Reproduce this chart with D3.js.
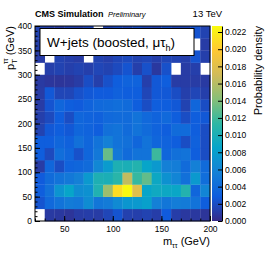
<!DOCTYPE html>
<html lang="en">
<head>
<meta charset="UTF-8">
<title>W+jets boosted mu-tau_h</title>
<style>
  body { margin: 0; background: #fff; }
  svg  { display: block; font-family: "Liberation Sans", Arial, sans-serif; }
  .tick text { font-size: 8.5px; fill: #000; }
  .tick line { stroke: #000; }
</style>
</head>
<body>
<svg id="chart" width="270" height="260"></svg>

<script src="https://d3js.org/d3.v7.min.js"></script>
<script>
/* ---------------- Data ---------------- */
const mEdges  = [20, 30, 40, 50, 60, 70, 80, 90, 100, 110, 120, 130, 140, 150, 160, 170, 180, 190, 200];
const ptEdges = [0, 25, 50, 75, 100, 125, 150, 175, 200, 225, 250, 275, 300, 325, 350, 375, 400];

// probability density x 1e-3, one row per pT bin (bottom first), one value per m bin
const density = [
  [0, 0.9, 0.8, 0.6, 1.0, 1.1, 1.0, 1.6, 2.4, 1.3, 1.2, 1.4, 1.1, 2.8, 1.1, 0.8, 0.8, 0.6],
  [2.4, 3.8, 4.6, 5.2, 5.0, 6.6, 4.8, 5.2, 6.4, 7.4, 7.6, 8.2, 5.6, 4.8, 5.4, 5.2, 4.6, 3.0],
  [3.0, 4.4, 7.2, 8.6, 6.6, 7.0, 10.4, 15.0, 21.0, 22.6, 18.0, 8.6, 9.2, 9.0, 8.8, 10.6, 3.6, 6.0],
  [2.8, 4.0, 4.6, 5.0, 5.6, 7.6, 10.2, 10.0, 11.0, 16.4, 11.6, 13.0, 9.0, 7.0, 6.0, 4.4, 7.6, 4.2],
  [1.0, 3.6, 2.0, 3.4, 3.6, 4.0, 6.2, 7.8, 10.2, 10.0, 10.6, 8.6, 7.6, 5.6, 5.4, 4.0, 5.6, 4.0],
  [3.0, 1.8, 4.2, 3.6, 2.2, 3.6, 5.0, 13.2, 5.0, 4.0, 4.6, 4.6, 11.8, 3.6, 4.4, 4.6, 3.0, 2.0],
  [3.0, 3.0, 3.6, 3.2, 4.4, 3.6, 4.6, 5.6, 4.6, 4.4, 3.6, 4.6, 3.6, 3.4, 3.0, 2.0, 3.2, 2.0],
  [1.4, 2.6, 3.0, 2.6, 3.6, 3.4, 3.0, 4.4, 4.6, 4.0, 4.6, 4.0, 3.4, 3.0, 4.0, 4.0, 3.0, 2.0],
  [1.2, 1.8, 3.0, 2.0, 3.6, 3.4, 3.2, 3.8, 4.0, 4.0, 4.6, 3.8, 3.4, 3.8, 3.0, 2.0, 3.0, 2.6],
  [1.0, 2.4, 3.6, 3.0, 2.8, 3.4, 3.8, 4.0, 4.2, 4.0, 3.0, 2.0, 3.0, 3.0, 2.6, 1.4, 3.6, 2.0],
  [1.0, 2.6, 1.6, 1.6, 2.2, 2.6, 2.8, 2.8, 3.2, 3.0, 3.0, 1.6, 2.6, 2.6, 2.0, 1.2, 1.6, 1.2],
  [0.9, 0.7, 0.6, 0.7, 1.0, 2.0, 1.2, 2.2, 3.0, 3.4, 3.4, 1.2, 2.6, 3.0, 1.0, 1.0, 1.0, 0.9],
  [0, 1.2, 1.4, 1.2, 1.4, 1.2, 1.6, 1.4, 1.8, 2.4, 1.2, 2.2, 0.8, 2.2, 0, 1.0, 1.2, 0],
  [1.0, 0, 1.4, 1.2, 1.0, 0, 1.4, 1.2, 1.6, 1.8, 1.4, 1.6, 1.2, 1.6, 1.4, 1.2, 2.4, 1.2],
  [1.2, 1.0, 1.2, 1.0, 1.4, 1.2, 1.0, 1.2, 1.4, 1.6, 1.2, 1.4, 1.0, 1.2, 1.0, 1.2, 0, 1.0],
  [1.4, 1.2, 1.0, 1.4, 1.2, 1.6, 0, 1.4, 1.8, 1.6, 2.0, 1.6, 1.4, 2.0, 1.6, 1.6, 2.4, 1.4]
];

const xTicks = [50, 100, 150, 200];
const yTicks = [0, 50, 100, 150, 200, 250, 300, 350, 400];
const zTicks = [0, 0.002, 0.004, 0.006, 0.008, 0.01, 0.012, 0.014, 0.016, 0.018, 0.02, 0.022];
const zMax   = 0.0227;

// ROOT kBird palette stops
const birdStops  = [0, 0.125, 0.25, 0.375, 0.5, 0.625, 0.75, 0.875, 1];
const birdColors = ['#352a87', '#0f5cdd', '#1481d6', '#06a4ca', '#2eb7a4', '#87bf77', '#d1bb59', '#fec832', '#f9fb0e'];

/* ---------------- Layout ---------------- */
const L = 35, R = 210, T = 26, B = 221;
const CB = {x0: 212, x1: 222};

const svg = d3.select('#chart');

const x = d3.scaleLinear().domain([20, 200]).range([L, R]);
const y = d3.scaleLinear().domain([0, 400]).range([B, T]);
const z = d3.scaleLinear().domain([0, zMax]).range([B, T]);
const color = d3.scaleLinear()
  .domain(birdStops.map(s => s * zMax))
  .range(birdColors)
  .clamp(true);

/* ---------------- Cells ---------------- */
const cells = [];
density.forEach((row, j) => row.forEach((v, i) => {
  if (v > 0) cells.push({i, j, v: v / 1000});
}));

svg.append('g').selectAll('rect')
  .data(cells)
  .enter().append('rect')
    .attr('x', d => x(mEdges[d.i]))
    .attr('y', d => y(ptEdges[d.j + 1]))
    .attr('width', d => x(mEdges[d.i + 1]) - x(mEdges[d.i]) + 0.3)
    .attr('height', d => y(ptEdges[d.j]) - y(ptEdges[d.j + 1]) + 0.3)
    .attr('fill', d => color(d.v));

/* ---------------- Axes ---------------- */
const minorX = d3.range(20, 201, 10);
const minorY = d3.range(0, 401, 10);

const gx = svg.append('g').attr('transform', `translate(0,${B})`);
gx.call(d3.axisBottom(x).tickValues(minorX).tickSize(-2.5).tickFormat(''));
gx.append('g').call(d3.axisBottom(x).tickValues(xTicks).tickSize(-5).tickPadding(5));
gx.selectAll('.domain').remove();

const gy = svg.append('g').attr('transform', `translate(${L},0)`);
gy.call(d3.axisLeft(y).tickValues(minorY).tickSize(-2.5).tickFormat(''));
gy.append('g').call(d3.axisLeft(y).tickValues(yTicks).tickSize(-5).tickPadding(3));
gy.selectAll('.domain').remove();

// frame
svg.append('rect')
  .attr('x', L).attr('y', T)
  .attr('width', R - L).attr('height', B - T)
  .attr('fill', 'none').attr('stroke', '#000').attr('stroke-width', 1);

/* ---------------- Colour bar ---------------- */
const grad = svg.append('defs').append('linearGradient')
  .attr('id', 'bird').attr('x1', 0).attr('y1', 1).attr('x2', 0).attr('y2', 0);
grad.selectAll('stop')
  .data(birdStops)
  .enter().append('stop')
    .attr('offset', d => d)
    .attr('stop-color', (d, k) => birdColors[k]);

svg.append('rect')
  .attr('x', CB.x0).attr('y', T)
  .attr('width', CB.x1 - CB.x0).attr('height', B - T)
  .attr('fill', 'url(#bird)');

const gz = svg.append('g').attr('transform', `translate(${CB.x1},0)`);
gz.call(d3.axisRight(z).tickValues(zTicks).tickSize(-4).tickPadding(3).tickSizeOuter(0));
gz.select('.domain').attr('stroke', '#000');

svg.append('text')
  .attr('transform', `translate(262,${T}) rotate(-90)`)
  .attr('text-anchor', 'end')
  .attr('font-size', 11)
  .text('Probability density');

/* ---------------- Titles ---------------- */
svg.append('text')
  .attr('x', L).attr('y', 17)
  .attr('font-size', 9).attr('font-weight', 'bold')
  .text('CMS Simulation');

svg.append('text')
  .attr('x', 108).attr('y', 17)
  .attr('font-size', 7.5).attr('font-style', 'italic')
  .text('Preliminary');

svg.append('text')
  .attr('x', 222).attr('y', 17)
  .attr('text-anchor', 'end')
  .attr('font-size', 9.5)
  .text('13 TeV');

// y title: p_T^{ττ} (GeV)
const yt = svg.append('text')
  .attr('transform', `translate(14,${T}) rotate(-90)`)
  .attr('text-anchor', 'end')
  .attr('font-size', 11);
yt.append('tspan').text('p');
yt.append('tspan').attr('font-size', 8).attr('dy', 3).text('T');
yt.append('tspan').attr('font-size', 7).attr('dx', -5).attr('dy', -9).text('ττ');
yt.append('tspan').attr('dy', 6).text(' (GeV)');

// x title: m_{ττ} (GeV)
const xt = svg.append('text')
  .attr('x', R).attr('y', 245)
  .attr('text-anchor', 'end')
  .attr('font-size', 11);
xt.append('tspan').text('m');
xt.append('tspan').attr('font-size', 7).attr('dy', 3).text('ττ');
xt.append('tspan').attr('dy', -3).text(' (GeV)');

/* ---------------- Legend box ---------------- */
svg.append('rect')
  .attr('x', 40).attr('y', 28.5)
  .attr('width', 154).attr('height', 27)
  .attr('fill', '#fff').attr('stroke', '#000').attr('stroke-width', 1);

const lt = svg.append('text')
  .attr('x', 47).attr('y', 47)
  .attr('font-size', 13.5);
lt.append('tspan').text('W+jets (boosted, μτ');
lt.append('tspan').attr('font-size', 9).attr('dy', 4).text('h');
lt.append('tspan').attr('dy', -4).text(')');
</script>
</body>
</html>
